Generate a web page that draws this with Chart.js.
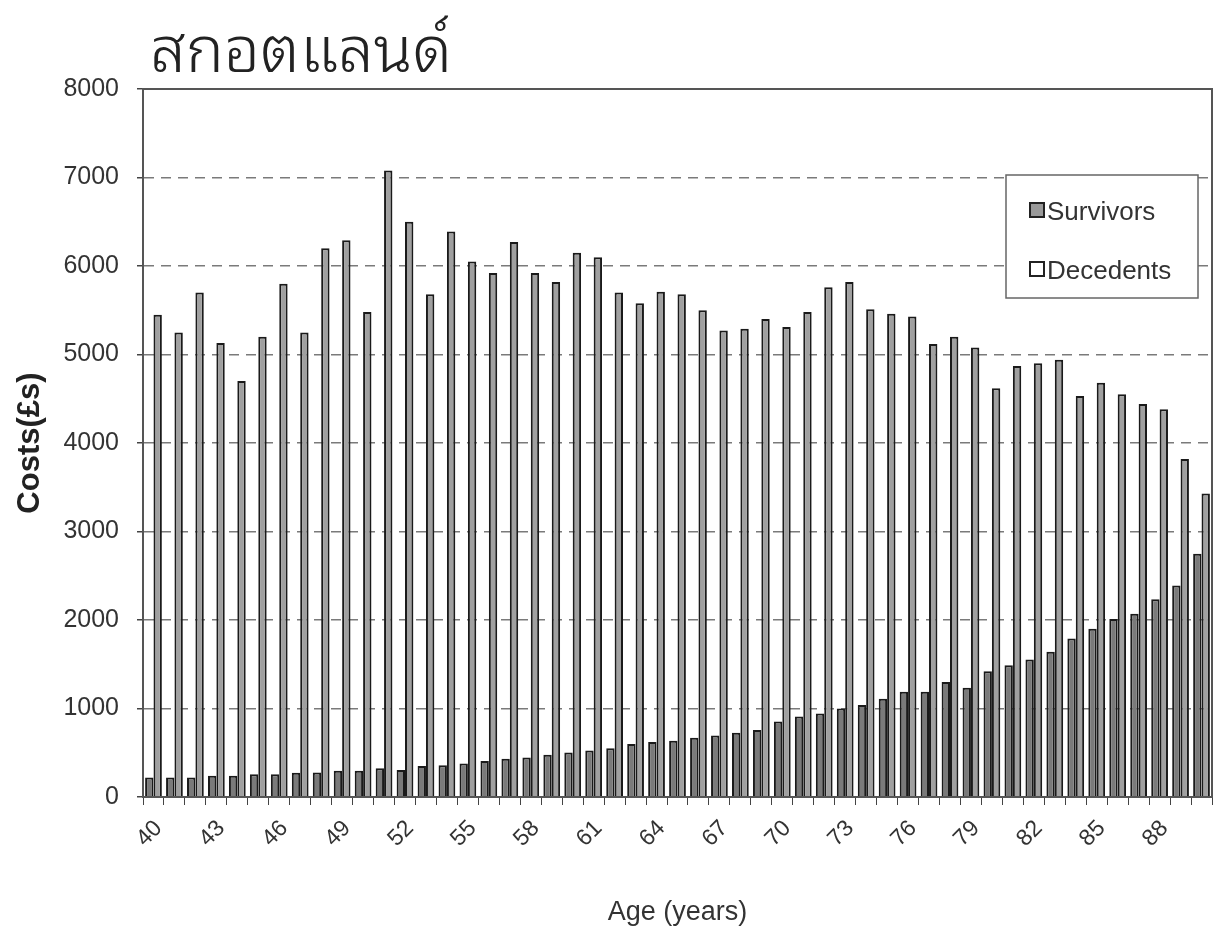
<!DOCTYPE html>
<html>
<head>
<meta charset="utf-8">
<script src="https://cdn.jsdelivr.net/npm/chart.js@4.4.0/dist/chart.umd.min.js"></script>
<style>
  html, body { margin: 0; padding: 0; background: #fff; }
</style>
</head>
<body>
<canvas id="costs-chart" width="1214" height="940"></canvas>
<script>
// data
const chartTitle = 'สกอตแลนด์';
const ages = ['40','41','42','43','44','45','46','47','48','49','50','51','52','53','54','55','56','57','58','59',
  '60','61','62','63','64','65','66','67','68','69','70','71','72','73','74','75','76','77','78','79',
  '80','81','82','83','84','85','86','87','88','89','90'];
const survivors = [220, 220, 220, 240, 240, 258, 258, 273, 277, 297, 297, 325, 306, 349, 359, 378, 407, 431, 445, 478,
  502, 526, 550, 598, 622, 636, 670, 694, 727, 756, 852, 909, 943, 1000, 1040, 1110, 1190, 1190, 1300, 1235,
  1420, 1490, 1555, 1640, 1790, 1900, 2010, 2070, 2235, 2390, 2750];
const decedents = [5450, 5250, 5700, 5130, 4700, 5200, 5800, 5250, 6200, 6290, 5480, 7080, 6500, 5680, 6390, 6050, 5920, 6270, 5920, 5820,
  6150, 6100, 5700, 5580, 5710, 5680, 5500, 5270, 5290, 5400, 5310, 5480, 5760, 5820, 5510, 5460, 5430, 5120, 5200, 5080,
  4620, 4870, 4900, 4940, 4530, 4680, 4550, 4440, 4380, 3820, 3430];
const seriesNames = ['Survivors', 'Decedents'];
const yMax = 8000;
const yStep = 1000;
const labelEvery = 3;

const FONT = '"Liberation Sans", Arial, sans-serif';

// frame, title and the floating legend
const decorPlugin = {
  id: 'decor',
  afterDraw(chart) {
    const ctx = chart.ctx;
    const a = chart.chartArea;
    ctx.save();
    ctx.strokeStyle = '#555';
    ctx.lineWidth = 2;
    ctx.strokeRect(a.left, a.top, a.right - a.left, a.bottom - a.top);

    // title
    ctx.fillStyle = '#222';
    ctx.font = '300 64px "Noto Sans Thai Looped", "Loma", "Garuda", "Norasi", "Kinnari", "Noto Sans Thai", sans-serif';
    ctx.textBaseline = 'alphabetic';
    ctx.textAlign = 'left';
    ctx.fillText(chartTitle, 150, 72);

    // legend
    const lx = 1006, ly = 175, lw = 192, lh = 123;
    ctx.fillStyle = '#fff';
    ctx.fillRect(lx, ly, lw, lh);
    ctx.strokeStyle = '#666';
    ctx.lineWidth = 1.5;
    ctx.strokeRect(lx, ly, lw, lh);
    const boxFill = ['#9a9a9a', '#ffffff'];
    ctx.font = '26px ' + FONT;
    ctx.textBaseline = 'middle';
    chart.data.datasets.forEach((ds, i) => {
      const cy = ly + 37 + i * 59;
      ctx.fillStyle = boxFill[i];
      ctx.fillRect(lx + 24, cy - 9, 14, 14);
      ctx.strokeStyle = '#222';
      ctx.lineWidth = 2;
      ctx.strokeRect(lx + 24, cy - 9, 14, 14);
      ctx.fillStyle = '#333';
      ctx.fillText(ds.label, lx + 41, cy + 1);
    });
    ctx.restore();
  }
};

const ctx = document.getElementById('costs-chart').getContext('2d');
new Chart(ctx, {
  type: 'bar',
  data: {
    labels: ages,
    datasets: [
      {
        label: seriesNames[0],
        data: survivors,
        backgroundColor: '#7a7a7a',
        borderColor: '#1a1a1a',
        borderWidth: 2
      },
      {
        label: seriesNames[1],
        data: decedents,
        backgroundColor: '#a0a0a0',
        borderColor: '#1a1a1a',
        borderWidth: 2
      }
    ]
  },
  options: {
    responsive: false,
    animation: false,
    devicePixelRatio: 1,
    layout: { padding: { top: 89, right: 2, left: 0, bottom: 0 } },
    datasets: { bar: { categoryPercentage: 0.8, barPercentage: 1.0 } },
    plugins: {
      legend: { display: false },
      title: { display: false },
      tooltip: { enabled: false }
    },
    scales: {
      x: {
        afterFit(scale) {
          scale.height = 143;
          scale.paddingLeft = 0;
          scale.paddingRight = 0;
        },
        grid: { display: true, drawOnChartArea: false, drawTicks: true, tickLength: 8, color: '#444', lineWidth: 1 },
        border: { display: true, color: '#333', width: 2 },
        ticks: {
          autoSkip: false,
          maxRotation: 45,
          minRotation: 45,
          padding: 10,
          labelOffset: 5,
          color: '#333',
          font: { family: FONT, size: 23 },
          callback: function (value, index) {
            return index % labelEvery === 0 ? this.getLabelForValue(value) : '';
          }
        },
        title: {
          display: true,
          text: 'Age (years)',
          color: '#333',
          font: { family: FONT, size: 27 },
          padding: { top: 0, bottom: 11 }
        }
      },
      y: {
        min: 0,
        max: yMax,
        afterFit(scale) { scale.width = 143; },
        grid: {
          color: (c) => (c.tick.value === 0 || c.tick.value === yMax) ? 'rgba(0,0,0,0)' : '#7a7a7a',
          lineWidth: 1.5,
          drawTicks: true,
          tickLength: 6,
          tickColor: '#444'
        },
        border: { display: true, color: '#333', width: 2, dash: [10, 7] },
        ticks: {
          stepSize: yStep,
          padding: 18,
          color: '#333',
          font: { family: FONT, size: 25 },
          callback: (v) => String(v)
        },
        title: {
          display: true,
          text: 'Costs(£s)',
          color: '#222',
          font: { family: FONT, size: 31, weight: 'bold' },
          padding: { top: 12, bottom: 0 }
        }
      }
    }
  },
  plugins: [decorPlugin]
});
</script>
</body>
</html>
